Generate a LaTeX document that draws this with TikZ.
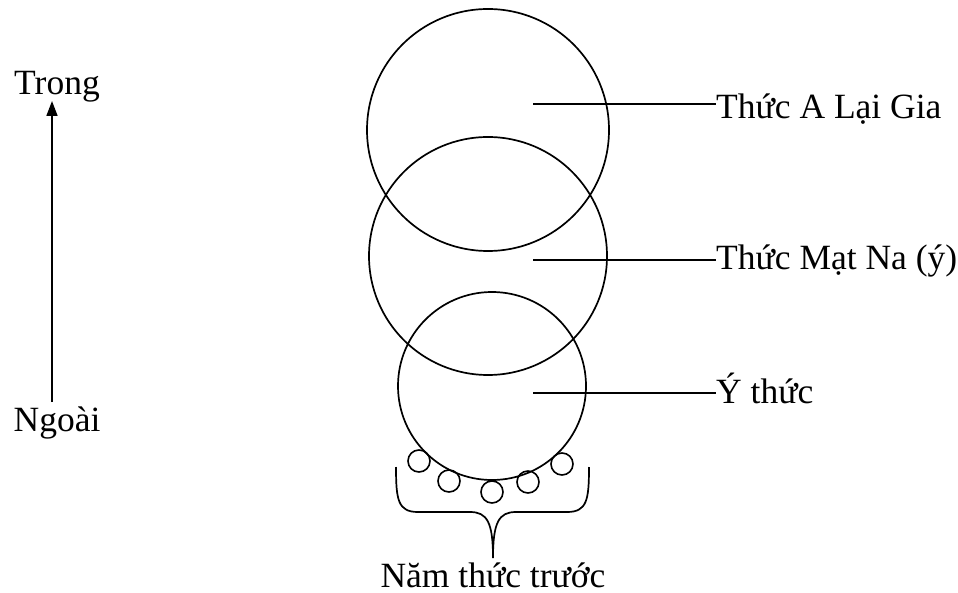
\documentclass[tikz,border=0pt]{standalone}
\usepackage{fontspec}
\setmainfont{Liberation Serif}
\usetikzlibrary{arrows.meta}
\begin{document}
\begin{tikzpicture}[x=1pt,y=-1pt,
  ring/.style={draw,circle,inner sep=0pt,line width=1.7pt},
  seed/.style={draw,circle,inner sep=0pt,minimum size=22pt,line width=1.6pt},
  lbl/.style={inner sep=0pt,font=\fontsize{35.5}{40}\selectfont},
  wire/.style={line width=1.7pt}]
\useasboundingbox (0,0) rectangle (958,593);
% the three nested minds
\node[ring,minimum size=242pt] (alaya) at (488,130) {};
\node[ring,minimum size=238pt] (manas) at (488,256) {};
\node[ring,minimum size=188pt] (mano) at (492,386) {};
% the five sense consciousnesses
\node[seed] (s1) at (419,461) {};
\node[seed] (s2) at (449,481) {};
\node[seed] (s3) at (492,492) {};
\node[seed] (s4) at (528,482) {};
\node[seed] (s5) at (562,464) {};
% labels on the right
\node[lbl,anchor=base west] (lA) at (716,119) {Thức A Lại Gia};
\node[lbl,anchor=base west] (lM) at (716,270) {Thức Mạt Na (ý)};
\node[lbl,anchor=base west] (lY) at (716,403) {Ý thức};
\coordinate (pA) at (533,104);
\coordinate (pM) at (533,260);
\coordinate (pY) at (533,393);
\draw[wire] (pA) -- (pA -| lA.west);
\draw[wire] (pM) -- (pM -| lM.west);
\draw[wire] (pY) -- (pY -| lY.west);
% inner / outer axis
\node[lbl,anchor=base] (trong) at (57,95) {Trong};
\node[lbl,anchor=base] (ngoai) at (57,431) {Ngoài};
\coordinate (axB) at (52,402);
\coordinate (axT) at (52,101);
\draw[wire,-{Triangle[length=15pt,width=11pt]}] (axB) -- (axT);
% brace under the small circles
\coordinate (bL) at (396,467);
\coordinate (bR) at (589,467);
\coordinate (bT) at (493,558);
\draw[wire] (bL) .. controls (396,500) and (398,512) .. (418,512)
  -- (470,512) .. controls (487,512) and (493,522) .. (bT)
  .. controls (493,522) and (499,512) .. (516,512)
  -- (567,512) .. controls (587,512) and (589,500) .. (bR);
\node[lbl,anchor=base] (nam) at (493,587) {Năm thức trước};
\end{tikzpicture}
\end{document}
